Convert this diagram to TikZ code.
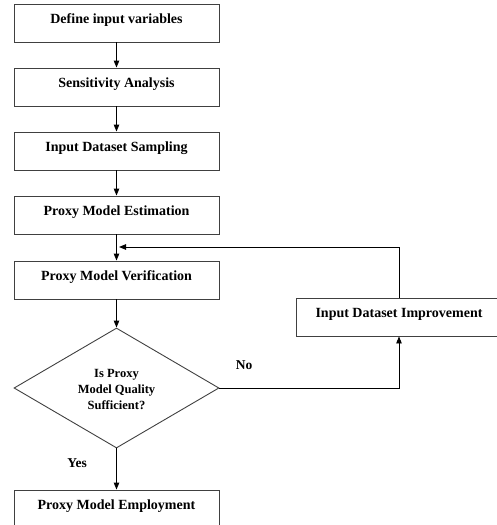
\documentclass[tikz,border=0pt]{standalone}
\usepackage{fontspec}
\setmainfont{Liberation Serif}
\usetikzlibrary{shapes.geometric,arrows.meta}
\begin{document}
\begin{tikzpicture}[x=1pt,y=-1pt,
 stepbox/.style={draw=black!75,line width=0.9pt,minimum width=205pt,minimum height=38pt,inner sep=0pt,font=\fontsize{14}{16}\selectfont\bfseries,text height=10pt,text depth=9pt},
 decision/.style={diamond,draw=black!75,line width=0.9pt,minimum width=205pt,minimum height=120pt,inner sep=0pt},
 dectext/.style={align=center,font=\fontsize{12.5}{16}\selectfont\bfseries},
 lbl/.style={font=\fontsize{13.5}{16}\selectfont\bfseries},
 conn/.style={line width=0.9pt,-{Triangle[length=7pt,width=5.5pt]}}]
\useasboundingbox (0,0) rectangle (497,525);
\node[stepbox] (b1) at (116.5,23) {Define input variables};
\node[stepbox] (b2) at (116.5,87) {Sensitivity Analysis};
\node[stepbox] (b3) at (116.5,151) {Input Dataset Sampling};
\node[stepbox] (b4) at (116.5,215) {Proxy Model Estimation};
\node[stepbox] (b5) at (116.5,280) {Proxy Model Verification};
\node[decision] (d) at (116.5,388) {};
\node[dectext] (dt) at (116.5,389) {Is Proxy\\Model Quality\\Sufficient?};
\node[stepbox] (b6) at (116.5,509) {Proxy Model Employment};
\node[stepbox,minimum width=206pt] (r) at (399,317) {Input Dataset Improvement};
\coordinate (fb) at (119,247);
\coordinate (c1) at (399,247);
\coordinate (c2) at (399,388);
\draw[conn] (b1) -- (b2);
\draw[conn] (b2) -- (b3);
\draw[conn] (b3) -- (b4);
\draw[conn] (b4) -- (b5);
\draw[conn] (b5) -- (d);
\draw[conn] (d) -- (b6);
\draw[conn] (r.north) -- (c1) -- (fb);
\draw[conn] (d.east) -- (c2) -- (r.south);
\node[lbl] (no) at (244,365) {No};
\node[lbl] (yes) at (77,463) {Yes};
\end{tikzpicture}
\end{document}
